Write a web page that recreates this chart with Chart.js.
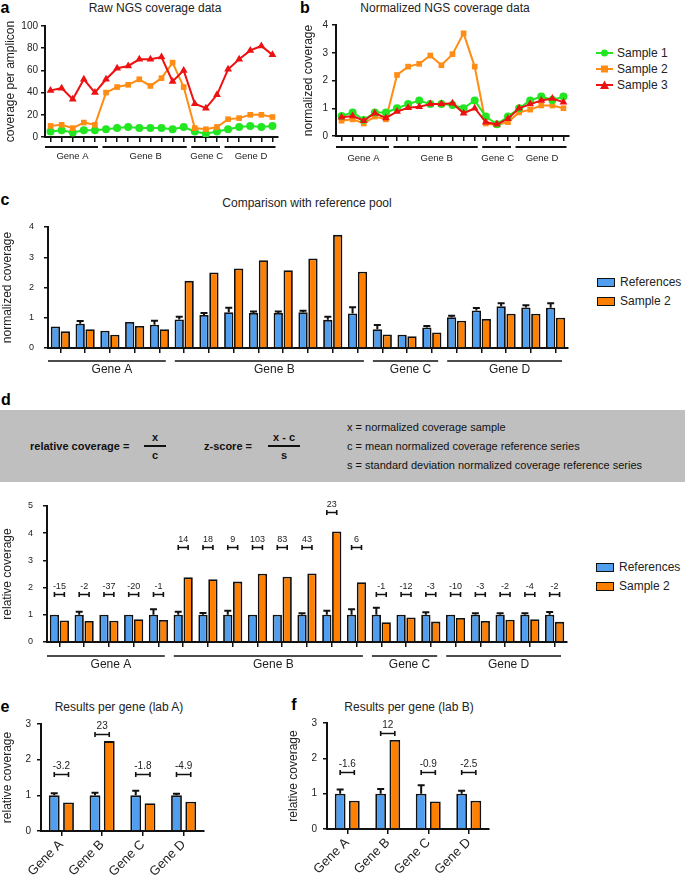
<!DOCTYPE html>
<html>
<head>
<meta charset="utf-8">
<script src="https://cdn.jsdelivr.net/npm/chart.js@4.4.1/dist/chart.umd.min.js"></script>
<style>
  body { margin: 0; width: 685px; height: 877px; position: relative; overflow: hidden;
         background: #fff; color: #222; font-family: 'Liberation Sans', Arial, sans-serif; }
  .abs { position: absolute; white-space: nowrap; }
  .mid { transform: translate(-50%, -50%); }
  .vmid { transform: translateY(-50%); }
  .letter { font-weight: bold; font-size: 16px; color: #000; }
  .title { font-size: 12px; }
  canvas { display: block; }
  .box { position: absolute; left: 0; top: 410px; width: 685px; height: 72px; background: #bfbfbf; }
  .f11 { font-size: 11px; color: #111; }
  .bold { font-weight: bold; }
  .fracbar { position: absolute; height: 1.5px; background: #111; }
  .row { position: absolute; height: 14px; display: flex; align-items: center; font-size: 12px; }
  .swatch { width: 16px; height: 7px; border: 1.5px solid #111; margin-right: 5px; }
</style>
</head>
<body>

<!-- panel letters and titles -->
<div class="abs mid letter" style="left:5px; top:8px;">a</div>
<div class="abs mid title" style="left:155px; top:8px;">Raw NGS coverage data</div>
<div class="abs mid letter" style="left:305px; top:8px;">b</div>
<div class="abs mid title" style="left:445px; top:8px;">Normalized NGS coverage data</div>
<div class="abs mid letter" style="left:5px; top:200px;">c</div>
<div class="abs mid title" style="left:307px; top:203px;">Comparison with reference pool</div>
<div class="abs mid letter" style="left:6px; top:400px;">d</div>
<div class="abs mid letter" style="left:5px; top:707px;">e</div>
<div class="abs mid title" style="left:119px; top:707px;">Results per gene (lab A)</div>
<div class="abs mid letter" style="left:294px; top:705px;">f</div>
<div class="abs mid title" style="left:409px; top:707px;">Results per gene (lab B)</div>

<!-- formula box of panel d -->
<div class="box"></div>
<div class="abs vmid f11 bold" style="left:30px; top:446px;">relative coverage =</div>
<div class="abs mid f11 bold" style="left:155px; top:437px;">x</div>
<div class="fracbar" style="left:144px; top:445px; width:22px;"></div>
<div class="abs mid f11 bold" style="left:155px; top:455px;">c</div>
<div class="abs vmid f11 bold" style="left:204px; top:446px;">z-score =</div>
<div class="abs mid f11 bold" style="left:284px; top:437px;">x - c</div>
<div class="fracbar" style="left:268px; top:445px; width:32px;"></div>
<div class="abs mid f11 bold" style="left:284px; top:455px;">s</div>
<div class="abs vmid f11" style="left:347px; top:427px;">x = normalized coverage sample</div>
<div class="abs vmid f11" style="left:347px; top:446px;">c = mean normalized coverage reference series</div>
<div class="abs vmid f11" style="left:347px; top:465px;">s = standard deviation normalized coverage reference series</div>

<!-- legends -->
<div class="row" style="left:596px; top:46px;">
  <svg width="17" height="10" style="margin-right:4px"><line x1="0" y1="5" x2="17" y2="5" stroke="#22e622" stroke-width="2"/><circle cx="8.5" cy="5" r="3.5" fill="#22e622"/></svg>Sample 1</div>
<div class="row" style="left:596px; top:62px;">
  <svg width="17" height="10" style="margin-right:4px"><line x1="0" y1="5" x2="17" y2="5" stroke="#ff8c14" stroke-width="2"/><rect x="5" y="1.5" width="7" height="7" fill="#ff8c14"/></svg>Sample 2</div>
<div class="row" style="left:596px; top:78px;">
  <svg width="17" height="10" style="margin-right:4px"><line x1="0" y1="5" x2="17" y2="5" stroke="#ee1111" stroke-width="2"/><polygon points="8.5,0.5 13,9 4,9" fill="#ee1111"/></svg>Sample 3</div>

<div class="row" style="left:597px; top:275px;"><div class="swatch" style="background:#509ef0"></div>References</div>
<div class="row" style="left:597px; top:294px;"><div class="swatch" style="background:#ff8000"></div>Sample 2</div>
<div class="row" style="left:596px; top:560px;"><div class="swatch" style="background:#509ef0"></div>References</div>
<div class="row" style="left:596px; top:579px;"><div class="swatch" style="background:#ff8000"></div>Sample 2</div>

<!-- chart canvases -->
<div class="abs" style="left:0; top:14px;"><canvas id="chartA" width="290" height="160"></canvas></div>
<div class="abs" style="left:300px; top:14px;"><canvas id="chartB" width="280" height="160"></canvas></div>
<div class="abs" style="left:0; top:205px;"><canvas id="chartC" width="580" height="180"></canvas></div>
<div class="abs" style="left:0; top:490px;"><canvas id="chartD" width="580" height="190"></canvas></div>
<div class="abs" style="left:0; top:712px;"><canvas id="chartE" width="215" height="165"></canvas></div>
<div class="abs" style="left:286px; top:711px;"><canvas id="chartF" width="215" height="165"></canvas></div>

<script>
'use strict';

var FONT = "'Liberation Sans', Arial, sans-serif";

// Amplicons per gene, shared by panels a-d.
var geneNames = ['Gene A', 'Gene B', 'Gene C', 'Gene D'];
var ampliconsPerGene = [5, 8, 3, 5];

// Panel a: raw coverage per amplicon.
var rawSample1 = [5, 6, 4, 6, 6, 7, 8, 9, 8, 8, 8, 7, 9, 5, 3, 5, 7, 9, 10, 9, 10];
var rawSample2 = [10, 11, 8, 13, 11, 40, 45, 47, 52, 46, 53, 67, 45, 8, 7, 9, 16, 17, 20, 20, 18];
var rawSample3 = [42, 44, 34, 52, 40, 52, 62, 64, 70, 70, 72, 50, 60, 30, 26, 38, 61, 70, 78, 82, 74];

// Panel b: normalized coverage.
var normSample1 = [0.72, 0.85, 0.58, 0.85, 0.85, 1.0, 1.15, 1.28, 1.15, 1.15, 1.12, 1.0, 1.28,
                   0.7, 0.42, 0.7, 1.0, 1.28, 1.42, 1.3, 1.42];
var normSample2 = [0.55, 0.6, 0.45, 0.7, 0.6, 2.2, 2.5, 2.6, 2.9, 2.55, 2.95, 3.7, 2.5,
                   0.45, 0.4, 0.5, 0.85, 0.95, 1.1, 1.1, 1.0];
var normSample3 = [0.68, 0.72, 0.55, 0.82, 0.65, 0.88, 1.02, 1.05, 1.15, 1.15, 1.18, 0.82, 1.0,
                   0.5, 0.42, 0.62, 1.0, 1.15, 1.28, 1.35, 1.22];

// Panel c: reference pool vs sample 2.
var refNorm = [0.71, 0.8, 0.57, 0.86, 0.77, 0.94, 1.09, 1.18, 1.16, 1.16, 1.18, 0.93, 1.14,
               0.62, 0.44, 0.68, 1.02, 1.24, 1.38, 1.34, 1.33];
var refNormErr = [0, 0.09, 0, 0, 0.13, 0.09, 0.07, 0.15, 0.01, 0.01, 0.03, 0.1, 0.21,
                  0.14, 0, 0.04, 0.01, 0.08, 0.1, 0.07, 0.15];
var sampleNorm = [0.55, 0.62, 0.44, 0.73, 0.62, 2.22, 2.5, 2.63, 2.9, 2.57, 2.96, 3.74, 2.52,
                  0.45, 0.39, 0.51, 0.9, 0.96, 1.13, 1.13, 1.0];

// Panel d: relative coverage and z-scores.
var refRel = [1, 1, 1, 1, 1, 1, 1, 1, 1, 1, 1, 1, 1, 1, 1, 1, 1, 1, 1, 1, 1];
var refRelErr = [0, 0.11, 0, 0, 0.2, 0.11, 0.07, 0.15, 0, 0, 0.04, 0.15, 0.2,
                 0.26, 0, 0.09, 0, 0.05, 0.05, 0.04, 0.1];
var sampleRel = [0.79, 0.77, 0.78, 0.84, 0.81, 2.38, 2.31, 2.22, 2.51, 2.4, 2.52, 4.06, 2.2,
                 0.73, 0.9, 0.75, 0.88, 0.77, 0.82, 0.84, 0.74];
var zScores = ['-15', '-2', '-37', '-20', '-1', '14', '18', '9', '103', '83', '43', '23', '6',
               '-1', '-12', '-3', '-10', '-3', '-2', '-4', '-2'];
// Height (relative coverage) at which each z-score bracket sits.
var zBracketAt = [1.78, 1.78, 1.78, 1.78, 1.78, 3.48, 3.48, 3.48, 3.48, 3.48, 3.48, 4.78, 3.48,
                  1.78, 1.78, 1.78, 1.78, 1.78, 1.78, 1.78, 1.78];

// Panels e and f: results per gene.
var labARef = [1, 1, 1, 1];
var labARefErr = [0.06, 0.07, 0.13, 0.03];
var labASample = [0.8, 2.52, 0.78, 0.82];
var labAZ = ['-3.2', '23', '-1.8', '-4.9'];
var labAZAt = [1.6, 2.72, 1.6, 1.6];

var labBRef = [1, 1, 1, 1];
var labBRefErr = [0.12, 0.13, 0.24, 0.08];
var labBSample = [0.8, 2.52, 0.78, 0.8];
var labBZ = ['-1.6', '12', '-0.9', '-2.5'];
var labBZAt = [1.62, 2.71, 1.62, 1.62];

var BLUE = '#509ef0';
var ORANGE = '#ff8000';
var INK = '#111';

function amplicons() {
  var labels = [];
  geneNames.forEach(function(name, g) {
    for (var i = 1; i <= ampliconsPerGene[g]; i++) {
      labels.push(name.slice(-1) + i);
    }
  });
  return labels;
}

// Horizontal gene brackets with names under the x axis.
var geneBracketPlugin = {
  id: 'geneBrackets',
  afterDraw: function(chart, args, opts) {
    var ctx = chart.ctx;
    var x = chart.scales.x;
    var bottom = chart.chartArea.bottom;
    var step = x.getPixelForValue(1) - x.getPixelForValue(0);
    var first = 0;

    ctx.save();
    ctx.strokeStyle = INK;
    ctx.lineWidth = opts.lineWidth;
    ctx.fillStyle = '#222';
    ctx.font = opts.fontSize + 'px ' + FONT;
    ctx.textAlign = 'center';
    ctx.textBaseline = 'middle';
    geneNames.forEach(function(name, g) {
      var last = first + ampliconsPerGene[g] - 1;
      var left = x.getPixelForValue(first) - step / 2 + (g > 0 ? opts.startGap : 0);
      var right = x.getPixelForValue(last) + step / 2 - opts.endGap;
      ctx.beginPath();
      ctx.moveTo(left, bottom + opts.lineOffset);
      ctx.lineTo(right, bottom + opts.lineOffset);
      ctx.stroke();
      ctx.fillText(name, (left + right) / 2 + opts.labelShift, bottom + opts.labelOffset);
      first = last + 1;
    });
    ctx.restore();
  }
};

// Upper error bars on the first (references) dataset.
var errorBarPlugin = {
  id: 'errorBars',
  afterDatasetsDraw: function(chart, args, opts) {
    var ctx = chart.ctx;
    var y = chart.scales.y;
    var meta = chart.getDatasetMeta(0);
    var values = chart.data.datasets[0].data;

    ctx.save();
    ctx.strokeStyle = INK;
    ctx.lineWidth = 2;
    opts.errors.forEach(function(err, i) {
      if (!err) {
        return;
      }
      var bx = meta.data[i].x;
      var top = y.getPixelForValue(values[i]);
      var tip = Math.min(top - 1.5, y.getPixelForValue(values[i] + err));
      ctx.beginPath();
      ctx.moveTo(bx, top);
      ctx.lineTo(bx, tip);
      ctx.moveTo(bx - 3.5, tip);
      ctx.lineTo(bx + 3.5, tip);
      ctx.stroke();
    });
    ctx.restore();
  }
};

// Z-score brackets spanning reference and sample bars.
var zScorePlugin = {
  id: 'zScores',
  afterDatasetsDraw: function(chart, args, opts) {
    var ctx = chart.ctx;
    var y = chart.scales.y;
    var refs = chart.getDatasetMeta(0).data;
    var samples = chart.getDatasetMeta(1).data;

    ctx.save();
    ctx.strokeStyle = INK;
    ctx.lineWidth = 1.6;
    ctx.fillStyle = '#222';
    ctx.font = opts.fontSize + 'px ' + FONT;
    ctx.textAlign = 'center';
    ctx.textBaseline = 'middle';
    opts.labels.forEach(function(label, i) {
      var x0 = refs[i].x;
      var x1 = samples[i].x;
      var yy = Math.round(y.getPixelForValue(opts.levels[i])) + 0.5;
      ctx.beginPath();
      ctx.moveTo(x0, yy);
      ctx.lineTo(x1, yy);
      ctx.moveTo(x0, yy - 2.5);
      ctx.lineTo(x0, yy + 2.5);
      ctx.moveTo(x1, yy - 2.5);
      ctx.lineTo(x1, yy + 2.5);
      ctx.stroke();
      ctx.fillText(label, (x0 + x1) / 2, yy - opts.labelGap);
    });
    ctx.restore();
  }
};

function fixedSize(size) {
  return function(scale) {
    if (scale.isHorizontal()) {
      scale.height = size;
    } else {
      scale.width = size;
    }
  };
}

function yAxis(o) {
  return {
    min: 0,
    max: o.max,
    afterFit: fixedSize(o.width),
    ticks: {
      stepSize: o.step,
      color: '#222',
      padding: o.padding,
      font: { size: o.fontSize, family: FONT }
    },
    grid: { drawOnChartArea: false, drawTicks: true, tickLength: 4, color: INK, lineWidth: 1.5 },
    border: { display: true, color: INK, width: 2 },
    title: {
      display: true,
      text: o.title,
      color: '#222',
      padding: { top: o.titlePad, bottom: 0 },
      font: { size: 12, family: FONT }
    }
  };
}

function xAxis(height, showLabels, fontSize) {
  return {
    type: 'category',
    offset: true,
    afterFit: fixedSize(height),
    ticks: {
      autoSkip: false,
      color: '#222',
      maxRotation: 45,
      minRotation: showLabels ? 45 : 0,
      padding: 1,
      font: { size: fontSize || 12, family: FONT },
      callback: function(value) {
        return showLabels ? this.getLabelForValue(value) : '';
      }
    },
    grid: { offset: false, drawOnChartArea: false, drawTicks: true, tickLength: 5, color: INK, lineWidth: 1.5 },
    border: { display: true, color: INK, width: 2 }
  };
}

function baseOptions(padding) {
  return {
    responsive: false,
    animation: false,
    devicePixelRatio: 1,
    layout: { autoPadding: false, padding: padding },
    plugins: {
      legend: { display: false },
      tooltip: { enabled: false }
    }
  };
}

function lineDataset(label, data, color, style, radius, order) {
  return {
    label: label,
    data: data,
    borderColor: color,
    backgroundColor: color,
    borderWidth: 2,
    pointStyle: style,
    pointRadius: radius,
    pointBorderWidth: 0,
    tension: 0,
    order: order
  };
}

function barDataset(label, data, color, cp, bp) {
  return {
    label: label,
    data: data,
    backgroundColor: color,
    borderColor: INK,
    borderWidth: 1.8,
    borderSkipped: 'bottom',
    categoryPercentage: cp,
    barPercentage: bp
  };
}

function makeLineChart(id, sets, yOpts, padding, geneOpts) {
  var options = baseOptions(padding);
  options.scales = { x: xAxis(geneOpts.axisHeight, false), y: yAxis(yOpts) };
  options.plugins.geneBrackets = geneOpts;
  return new Chart(document.getElementById(id), {
    type: 'line',
    data: { labels: amplicons(), datasets: sets },
    options: options,
    plugins: [geneBracketPlugin]
  });
}

function makeBarChart(id, labels, ref, sample, err, yOpts, padding, extra) {
  var options = baseOptions(padding);
  options.scales = {
    x: xAxis(extra.axisHeight, extra.showLabels, extra.labelSize),
    y: yAxis(yOpts)
  };
  options.plugins.errorBars = { errors: err };
  var plugins = [errorBarPlugin];
  if (extra.genes) {
    options.plugins.geneBrackets = extra.genes;
    plugins.push(geneBracketPlugin);
  }
  if (extra.z) {
    options.plugins.zScores = extra.z;
    plugins.push(zScorePlugin);
  }
  return new Chart(document.getElementById(id), {
    type: 'bar',
    data: {
      labels: labels,
      datasets: [
        barDataset('References', ref, BLUE, extra.cp, extra.bp),
        barDataset('Sample 2', sample, ORANGE, extra.cp, extra.bp)
      ]
    },
    options: options,
    plugins: plugins
  });
}

// Panel a
makeLineChart('chartA', [
  lineDataset('Sample 1', rawSample1, '#22e622', 'circle', 4, 3),
  lineDataset('Sample 2', rawSample2, '#ff8c14', 'rect', 4, 2),
  lineDataset('Sample 3', rawSample3, '#ee1111', 'triangle', 4.5, 1)
], { max: 100, step: 20, width: 45, padding: 3, fontSize: 10, title: 'coverage per amplicon', titlePad: 3 },
{ left: 0, top: 12, right: 12, bottom: 0 },
{ axisHeight: 37, lineOffset: 10, labelOffset: 19, startGap: 2, endGap: 2.5, labelShift: 1,
  lineWidth: 2, fontSize: 9.5 });

// Panel b
makeLineChart('chartB', [
  lineDataset('Sample 1', normSample1, '#22e622', 'circle', 4, 2),
  lineDataset('Sample 2', normSample2, '#ff8c14', 'rect', 4, 3),
  lineDataset('Sample 3', normSample3, '#ee1111', 'triangle', 4.5, 1)
], { max: 4, step: 1, width: 36, padding: 4, fontSize: 10, title: 'normalized coverage', titlePad: 1 },
{ left: 0, top: 11, right: 11, bottom: 0 },
{ axisHeight: 38, lineOffset: 11, labelOffset: 22, startGap: 2, endGap: 2.5, labelShift: 1,
  lineWidth: 2, fontSize: 9.5 });

// Panel c
makeBarChart('chartC', amplicons(), refNorm, sampleNorm, refNormErr,
  { max: 4, step: 1, width: 48, padding: 10, fontSize: 9, title: 'normalized coverage', titlePad: 0 },
  { left: 0, top: 22, right: 12, bottom: 0 },
  { axisHeight: 37, showLabels: false, cp: 0.8, bp: 0.94,
    genes: { lineOffset: 13, labelOffset: 22, startGap: 3, endGap: 6, labelShift: 5,
             lineWidth: 1.5, fontSize: 12 } });

// Panel d
makeBarChart('chartD', amplicons(), refRel, sampleRel, refRelErr,
  { max: 5, step: 1, width: 47, padding: 10, fontSize: 9, title: 'relative coverage', titlePad: 0 },
  { left: 0, top: 16, right: 13, bottom: 0 },
  { axisHeight: 38, showLabels: false, cp: 0.8, bp: 0.94,
    genes: { lineOffset: 14, labelOffset: 23, startGap: 3, endGap: 6, labelShift: 5,
             lineWidth: 1.5, fontSize: 12 },
    z: { labels: zScores, levels: zBracketAt, fontSize: 9, labelGap: 8 } });

// Panel e
makeBarChart('chartE', geneNames, labARef, labASample, labARefErr,
  { max: 3, step: 1, width: 41, padding: 6, fontSize: 10, title: 'relative coverage', titlePad: 0 },
  { left: 0, top: 11, right: 11, bottom: 0 },
  { axisHeight: 46, showLabels: true, labelSize: 13, cp: 0.7, bp: 0.76,
    z: { labels: labAZ, levels: labAZAt, fontSize: 10, labelGap: 8 } });

// Panel f
makeBarChart('chartF', geneNames, labBRef, labBSample, labBRefErr,
  { max: 3, step: 1, width: 41, padding: 6, fontSize: 10, title: 'relative coverage', titlePad: 0 },
  { left: 0, top: 11, right: 12, bottom: 0 },
  { axisHeight: 47, showLabels: true, labelSize: 13, cp: 0.7, bp: 0.76,
    z: { labels: labBZ, levels: labBZAt, fontSize: 10, labelGap: 8 } });
</script>
</body>
</html>
